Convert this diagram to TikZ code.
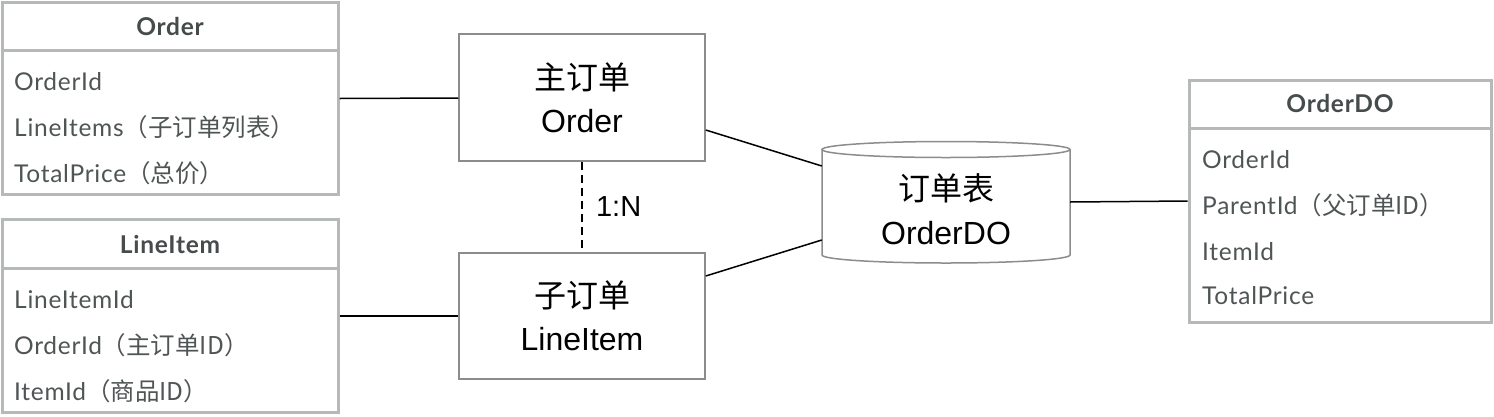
\documentclass[tikz,border=0pt]{standalone}
\usepackage{fontspec}
\setmainfont{Liberation Sans}
\newfontfamily\clsfont[LetterSpace=3]{Lato}
\newfontfamily\cjk{Noto Sans CJK SC}
\newcommand\zh[1]{{\cjk #1}}
\usetikzlibrary{positioning}
\definecolor{clsgray}{HTML}{B5B9BA}
\definecolor{hdgray}{HTML}{464B4C}
\definecolor{rowgray}{HTML}{4F5455}
\definecolor{boxgray}{HTML}{8C8C8C}
\tikzset{
  cls/.style={draw=clsgray,line width=3pt,minimum width=336pt,inner sep=0pt},
  clsline/.style={draw=clsgray,line width=3pt},
  clshead/.style={anchor=base,text=hdgray,font=\clsfont\bfseries\fontsize{24.5}{28}\selectfont},
  row/.style={anchor=base west,text=rowgray,inner sep=0pt,font=\clsfont\fontsize{24.5}{28}\selectfont},
  ent/.style={draw=boxgray,line width=1.5pt,minimum width=246pt,align=center,
    font=\fontsize{32}{43}\selectfont},
  conn/.style={line width=1.5pt}
}
\begin{document}
\begin{tikzpicture}[x=1pt,y=-1pt]
  \useasboundingbox (0,0) rectangle (1494,416);
  % class boxes on the left
  \node[cls,minimum height=192pt] (ordercls) at (170,98) {};
  \draw[clsline] ([yshift=-50pt]ordercls.north west) -- ([yshift=-50pt]ordercls.north east);
  \node[clshead] (orderhd) at (170,35) {Order};
  \foreach \y/\txt in {90/OrderId,136/{LineItems\zh{（子订单列表）}},182/{TotalPrice\zh{（总价）}}}
    \node[row] (o\y) at (14,\y) {\txt};
  \node[cls,minimum height=193pt] (itemcls) at (170,315.5) {};
  \draw[clsline] ([yshift=-51pt]itemcls.north west) -- ([yshift=-51pt]itemcls.north east);
  \node[clshead] (itemhd) at (170,253) {LineItem};
  \foreach \y/\txt in {308/LineItemId,354/{OrderId\zh{（主订单ID）}},400/{ItemId\zh{（商品ID）}}}
    \node[row] (i\y) at (14,\y) {\txt};
  % class box on the right
  \node[cls,minimum width=302pt,minimum height=242pt] (docls) at (1340,201) {};
  \draw[clsline] ([yshift=-50pt]docls.north west) -- ([yshift=-50pt]docls.north east);
  \node[clshead] (dohd) at (1340,112) {OrderDO};
  \foreach \y/\txt in {168/OrderId,214/{ParentId\zh{（父订单ID）}},260/ItemId,304/TotalPrice}
    \node[row] (d\y) at (1202,\y) {\txt};
  % entities
  \node[ent,minimum height=127pt] (mainord) at (582,97.5) {\zh{主订单}\\Order};
  \node[ent,minimum height=126pt] (subord) at (582,316) {\zh{子订单}\\LineItem};
  % table
  \draw[draw=boxgray,line width=1.5pt,fill=white] (822,149.5) -- (822,255)
    arc[start angle=180,end angle=360,x radius=124pt,y radius=8pt] -- (1070,149.5);
  \draw[draw=boxgray,line width=1.5pt] (946,149.5) ellipse [x radius=124pt,y radius=8pt];
  \node[minimum width=248pt,minimum height=122pt,inner sep=0pt] (tbl) at (946,202) {};
  \node[align=center,font=\fontsize{32}{44}\selectfont] (tbltxt) at (946,209) {\zh{订单表}\\OrderDO};
  % connectors
  \draw[conn] ([yshift=-0.5pt]ordercls.east) -- ([yshift=-0.5pt]mainord.west);
  \draw[conn] (itemcls.east|-subord.west) -- (subord.west);
  \draw[conn,dash pattern=on 8pt off 5pt] (mainord.south) -- (subord.north)
    node[midway,right=10pt,font=\fontsize{29}{34}\selectfont] (card) {1:N};
  \draw[conn] ([yshift=-32.5pt]mainord.east) -- ([yshift=36pt]tbl.west);
  \draw[conn] ([yshift=40pt]subord.east) -- ([yshift=-38pt]tbl.west);
  \draw[conn] (tbl.east) -- (docls.west);
\end{tikzpicture}
\end{document}
